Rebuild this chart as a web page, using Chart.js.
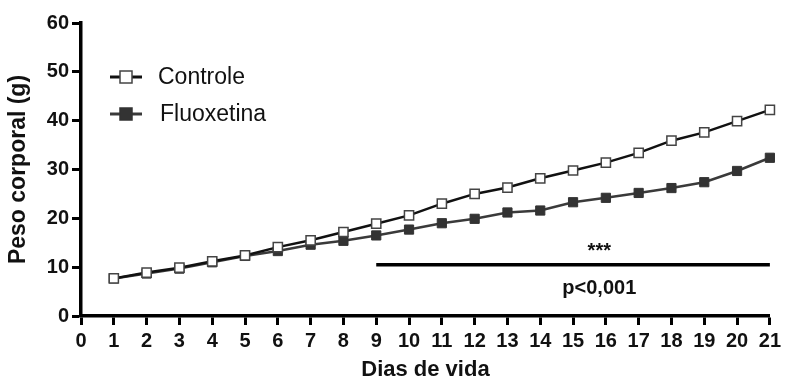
<!DOCTYPE html>
<html>
<head>
<meta charset="utf-8">
<script src="https://cdn.jsdelivr.net/npm/chart.js@4"></script>
<style>
    html, body { margin: 0; padding: 0; background: #fff; }
    #wrap { width: 785px; height: 383px; }
</style>
</head>
<body>
<div id="wrap"><canvas id="pesoChart" width="785" height="383"></canvas></div>
<script>
// Peso corporal por dia de vida
const days = [1, 2, 3, 4, 5, 6, 7, 8, 9, 10, 11, 12, 13, 14, 15, 16, 17, 18, 19, 20, 21];
const controle = [7.7, 8.9, 9.9, 11.2, 12.4, 14.1, 15.5, 17.2, 18.9, 20.6, 23.0, 25.0, 26.3, 28.2, 29.8, 31.4, 33.4, 35.9, 37.6, 39.9, 42.2];
const fluoxetina = [7.7, 8.7, 9.7, 11.0, 12.3, 13.3, 14.6, 15.4, 16.5, 17.7, 19.0, 19.9, 21.2, 21.6, 23.3, 24.2, 25.2, 26.2, 27.4, 29.7, 32.4];
const sigDays = [9, 21];
const sigLevel = 10.5;
const sigLabelDay = 15.8;
const sigStars = '***';
const sigText = 'p<0,001';

const tickFont = { family: "'Liberation Sans', Arial", size: 20, weight: 'bold' };

const toPoints = (xs, ys) => xs.map((x, i) => ({ x: x, y: ys[i] }));

// legend drawn inside the plot area, line + marker like the original
const insideLegend = {
    id: 'insideLegend',
    afterDraw(chart) {
        const ctx = chart.ctx;
        const items = chart.data.datasets.filter(d => d.label);
        ctx.save();
        items.forEach((ds, i) => {
            const y = 77 + i * 37;
            ctx.strokeStyle = ds.borderColor;
            ctx.lineWidth = 3;
            ctx.beginPath();
            ctx.moveTo(110, y);
            ctx.lineTo(142, y);
            ctx.stroke();
            ctx.fillStyle = ds.pointBackgroundColor;
            ctx.strokeStyle = ds.pointBorderColor;
            ctx.lineWidth = 1.5;
            ctx.fillRect(120, y - 6, 12, 12);
            ctx.strokeRect(120, y - 6, 12, 12);
            ctx.fillStyle = '#111';
            ctx.font = "23px 'Liberation Sans', Arial";
            ctx.textBaseline = 'middle';
            ctx.fillText(ds.label, 158 + i * 2, y + 1);
        });
        ctx.restore();
    }
};

const sigLabels = {
    id: 'sigLabels',
    afterDraw(chart) {
        const ctx = chart.ctx;
        const cx = chart.scales.x.getPixelForValue(sigLabelDay);
        const ly = chart.scales.y.getPixelForValue(sigLevel);
        ctx.save();
        ctx.fillStyle = '#111';
        ctx.textAlign = 'center';
        ctx.textBaseline = 'middle';
        ctx.font = "bold 20px 'Liberation Sans', Arial";
        ctx.fillText(sigStars, cx, ly - 13);
        ctx.fillText(sigText, cx, ly + 24);
        ctx.restore();
    }
};

new Chart(document.getElementById('pesoChart').getContext('2d'), {
    type: 'line',
    data: {
        datasets: [{
            label: 'Controle',
            data: toPoints(days, controle),
            borderColor: '#111',
            borderWidth: 2.5,
            pointStyle: 'rect',
            pointRadius: 6.5,
            pointHoverRadius: 6.5,
            pointBackgroundColor: '#fff',
            pointBorderColor: '#444',
            pointBorderWidth: 1.5,
            tension: 0,
            order: 1
        }, {
            label: 'Fluoxetina',
            data: toPoints(days, fluoxetina),
            borderColor: '#3a3a3a',
            borderWidth: 2.5,
            pointStyle: 'rect',
            pointRadius: 6.5,
            pointHoverRadius: 6.5,
            pointBackgroundColor: '#333',
            pointBorderColor: '#333',
            pointBorderWidth: 1,
            tension: 0,
            order: 2
        }, {
            label: '',
            data: toPoints(sigDays, [sigLevel, sigLevel]),
            borderColor: '#000',
            borderWidth: 3.5,
            pointRadius: 0,
            order: 3
        }]
    },
    options: {
        responsive: false,
        animation: false,
        clip: false,
        layout: { padding: { left: 0, right: 15, top: 23, bottom: 0 } },
        plugins: {
            legend: { display: false },
            tooltip: { enabled: false }
        },
        scales: {
            x: {
                type: 'linear',
                min: 0,
                max: 21,
                afterFit(scale) { scale.height = 67; },
                border: { display: true, color: '#000', width: 3.5 },
                grid: { drawOnChartArea: false, drawTicks: true, tickLength: 9, tickWidth: 3, tickColor: '#000' },
                ticks: { stepSize: 1, color: '#111', font: tickFont, padding: 4, maxRotation: 0, autoSkip: false },
                title: {
                    display: true,
                    text: 'Dias de vida',
                    color: '#111',
                    font: { family: "'Liberation Sans', Arial", size: 22, weight: 'bold' },
                    padding: { top: 0, bottom: 0 }
                }
            },
            y: {
                min: 0,
                max: 60,
                afterFit(scale) { scale.width = 81; },
                border: { display: true, color: '#000', width: 3.5 },
                grid: { drawOnChartArea: false, drawTicks: true, tickLength: 9, tickWidth: 3, tickColor: '#000' },
                ticks: { stepSize: 10, color: '#111', font: tickFont, padding: 3 },
                title: {
                    display: true,
                    text: 'Peso corporal (g)',
                    color: '#111',
                    font: { family: "'Liberation Sans', Arial", size: 23, weight: 'bold' },
                    padding: { top: 5, bottom: 0 }
                }
            }
        }
    },
    plugins: [insideLegend, sigLabels]
});
</script>
</body>
</html>
